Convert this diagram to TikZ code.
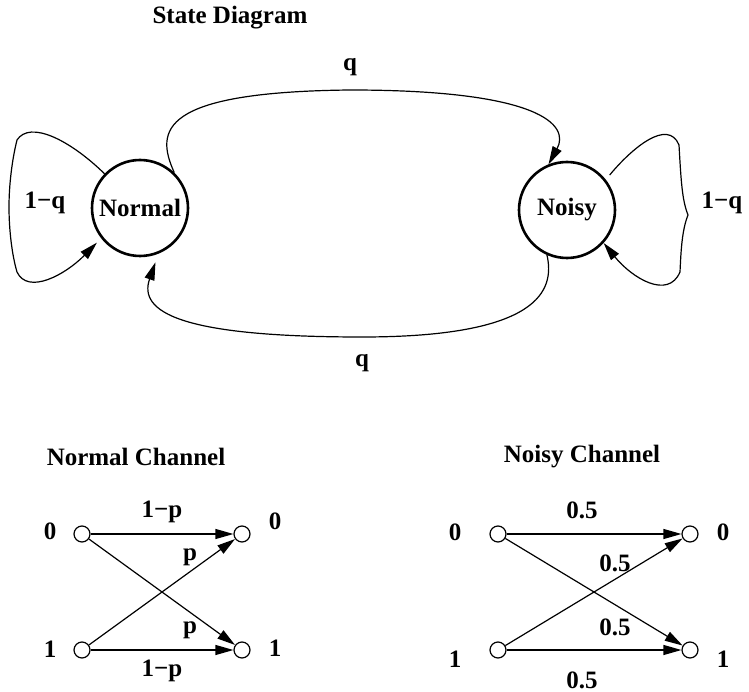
\documentclass[tikz,border=0pt]{standalone}
\usepackage{fontspec}
\setmainfont{Liberation Serif}
\usetikzlibrary{arrows.meta}
\begin{document}
\begin{tikzpicture}[x=1pt,y=-1pt,
  every node/.style={font=\fontsize{25}{30}\selectfont\bfseries},
  state/.style={circle,draw,line width=2.6pt,minimum size=96pt,inner sep=0pt},
  port/.style={circle,draw,line width=1.2pt,minimum size=16pt,inner sep=0pt},
  link/.style={line width=1.2pt,-{Triangle[length=18pt,width=10pt]}},
  lbl/.style={inner sep=0pt}]
\useasboundingbox (0,0) rectangle (749,692);

% ---------- State diagram ----------
\node[lbl] (title) at (230,18) {State Diagram};
\node[state] (N) at (140,208) {Normal};
\node[state] (Y) at (567,210) {Noisy};

\node[lbl] (qtop) at (350,67) {q};
\node[lbl] (qbot) at (362,363) {q};
\node[lbl] (lq) at (45,203) {1−q};
\node[lbl] (rq) at (722,203) {1−q};

% N -> Y (top)
\draw[link] (N.46) .. controls (155,130) and (160,92) .. (350,90)
  .. controls (540,90) and (570,125) .. (Y.112);
% Y -> N (bottom)
\draw[link,shorten >=9pt] (Y.246) .. controls (555,290) and (540,337) .. (362,337)
  .. controls (180,337) and (138,312) .. (N.-68);
% N self loop
\draw[link,shorten >=6pt] (N.136) .. controls (70,140) and (30,120) .. (17,140)
  .. controls (12,160) and (9,185) .. (9,207)
  .. controls (9,230) and (12,255) .. (17,272)
  .. controls (28,295) and (65,275) .. (N.218);
% Y self loop
\draw[link,shorten <=6pt] (Y.38) .. controls (632,148) and (668,118) .. (679,145)
  .. controls (681,180) and (682,200) .. (688,215)
  .. controls (682,230) and (681,250) .. (680,272)
  .. controls (668,300) and (632,278) .. (Y.-42);

% ---------- Normal channel ----------
\node[lbl] (nct) at (136,457) {Normal Channel};
\node[port] (a0) at (82,534) {};
\node[port] (b0) at (242,534) {};
\node[port] (a1) at (82,650) {};
\node[port] (b1) at (242,650) {};
\node[lbl] (a0l) at (50,531) {0};
\node[lbl] (b0l) at (275,521) {0};
\node[lbl] (a1l) at (50,649) {1};
\node[lbl] (b1l) at (275,648) {1};
\draw[link] (a0) -- (b0);
\draw[link] (a0) -- (b1);
\draw[link] (a1) -- (b0);
\draw[link] (a1) -- (b1);
\node[lbl] (e1) at (162,512) {1−p};
\node[lbl] (e2) at (190,557) {p};
\node[lbl] (e3) at (190,630) {p};
\node[lbl] (e4) at (162,671) {1−p};

% ---------- Noisy channel ----------
\node[lbl] (yct) at (582,457) {Noisy Channel};
\node[port] (c0) at (498,534) {};
\node[port] (d0) at (690,534) {};
\node[port] (c1) at (498,650) {};
\node[port] (d1) at (690,650) {};
\node[lbl] (c0l) at (455,532) {0};
\node[lbl] (d0l) at (723,532) {0};
\node[lbl] (c1l) at (455,659) {1};
\node[lbl] (d1l) at (723,659) {1};
\draw[link] (c0) -- (d0);
\draw[link] (c0) -- (d1);
\draw[link] (c1) -- (d0);
\draw[link] (c1) -- (d1);
\node[lbl] (f1) at (582,510) {0.5};
\node[lbl] (f2) at (615,563) {0.5};
\node[lbl] (f3) at (615,627) {0.5};
\node[lbl] (f4) at (582,680) {0.5};
\end{tikzpicture}
\end{document}
